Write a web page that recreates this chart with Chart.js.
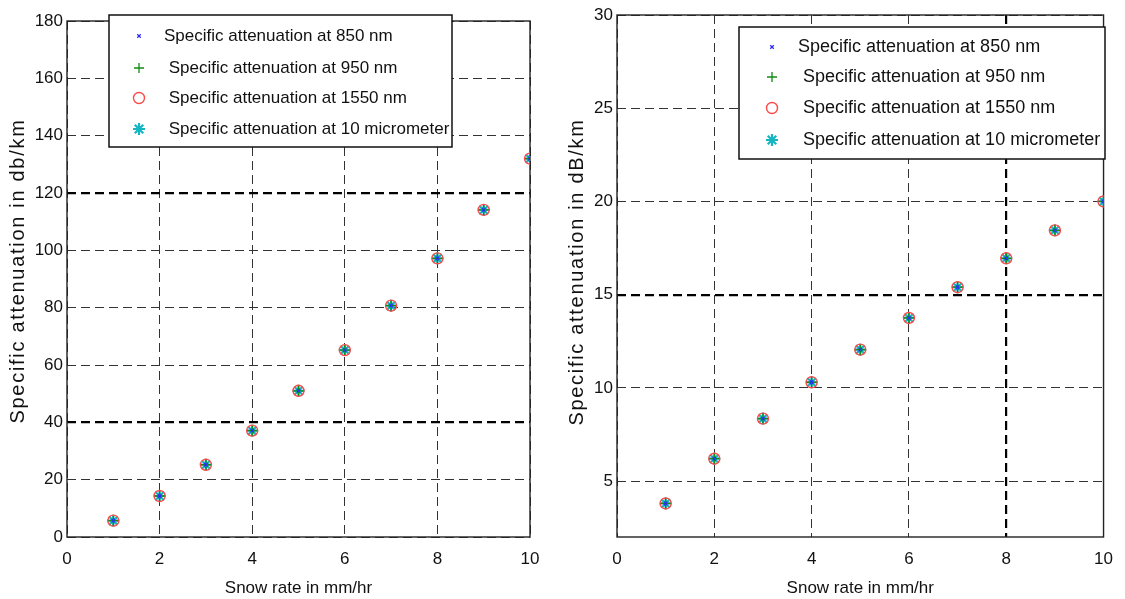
<!DOCTYPE html>
<html>
<head>
<meta charset="utf-8">
<script src="https://cdn.jsdelivr.net/npm/chart.js@4.4.0/dist/chart.umd.min.js"></script>
<style>
  html, body { margin: 0; padding: 0; background: #fff; }
  .panel { position: absolute; top: 0; height: 599px; }
  #left { left: 0; width: 560px; }
  #right { left: 560px; width: 565px; }
</style>
</head>
<body>
<div class="panel" id="left"><canvas id="chartLeft"></canvas></div>
<div class="panel" id="right"><canvas id="chartRight"></canvas></div>
<script>
// snow rate (mm/hr)
const snowRate = [1, 2, 3, 4, 5, 6, 7, 8, 9, 10];

// specific attenuation, left panel (db/km)
const attenuationLeft = [5.7, 14.3, 25.2, 37.1, 51.0, 65.2, 80.7, 97.2, 114.1, 132.0];
// specific attenuation, right panel (dB/km)
const attenuationRight = [3.8, 6.2, 8.35, 10.3, 12.05, 13.75, 15.4, 16.95, 18.45, 20.0];

const xTicks = [0, 2, 4, 6, 8, 10];
const yTicksLeft = [0, 20, 40, 60, 80, 100, 120, 140, 160, 180];
const yTicksRight = [5, 10, 15, 20, 25, 30];

const seriesLabels = [
    'Specific attenuation at 850 nm',
    ' Specific attenuation at 950 nm',
    ' Specific attenuation at 1550 nm',
    ' Specific attenuation at 10 micrometer'
];

// marker look for each wavelength
const markers = [
    { pointStyle: 'crossRot', radius: 2.5, color: '#2b2bff', width: 1.2 },
    { pointStyle: 'cross', radius: 5, color: '#138a13', width: 1.3 },
    { pointStyle: 'circle', radius: 5.5, color: '#ff4a4a', width: 1.4 },
    { pointStyle: 'star', radius: 6, color: '#14b6c2', width: 2.2 }
];

const fontFamily = "'Liberation Sans', Arial, sans-serif";
Chart.defaults.font.family = fontFamily;
Chart.defaults.font.size = 17;
Chart.defaults.color = '#111';

// matlab style box around the axes
const boxPlugin = {
    id: 'axesBox',
    beforeDatasetsDraw(chart) {
        const { ctx, chartArea: a } = chart;
        ctx.save();
        ctx.strokeStyle = '#222';
        ctx.lineWidth = 1.4;
        ctx.setLineDash([]);
        ctx.strokeRect(a.left, a.top, a.right - a.left, a.bottom - a.top);
        ctx.restore();
    }
};

// rotated y title, spaced out a little
const yTitlePlugin = {
    id: 'yTitle',
    beforeDatasetsDraw(chart, args, opts) {
        const ctx = chart.ctx;
        ctx.save();
        ctx.translate(opts.x, opts.y);
        ctx.rotate(-Math.PI / 2);
        ctx.font = opts.fontSize + 'px ' + fontFamily;
        ctx.letterSpacing = opts.spacing;
        ctx.fillStyle = '#111';
        ctx.textAlign = 'center';
        ctx.textBaseline = 'middle';
        ctx.fillText(opts.text, 0, 0);
        ctx.restore();
    }
};

// boxed legend drawn inside the plot
const legendBoxPlugin = {
    id: 'legendBox',
    afterDatasetsDraw(chart, args, opts) {
        const ctx = chart.ctx;
        ctx.save();
        ctx.setLineDash([]);
        ctx.fillStyle = '#fff';
        ctx.fillRect(opts.left, opts.top, opts.width, opts.height);
        ctx.strokeStyle = '#111';
        ctx.lineWidth = 1.5;
        ctx.strokeRect(opts.left, opts.top, opts.width, opts.height);
        ctx.font = opts.fontSize + 'px ' + fontFamily;
        ctx.textBaseline = 'middle';
        seriesLabels.forEach((label, i) => {
            const y = opts.top + opts.rows[i];
            const m = markers[i];
            ctx.strokeStyle = m.color;
            ctx.fillStyle = 'rgba(0,0,0,0)';
            ctx.lineWidth = m.width;
            Chart.helpers.drawPoint(ctx, { pointStyle: m.pointStyle, radius: m.radius, rotation: 0, borderWidth: m.width }, opts.left + opts.markerX, y);
            ctx.fillStyle = '#111';
            ctx.fillText(label, opts.left + opts.textX, y);
        });
        ctx.restore();
    }
};

function makeChart(canvasId, values, cfg) {
    const datasets = seriesLabels.map((label, i) => ({
        label: label.trim(),
        data: snowRate.map((x, k) => ({ x: x, y: values[k] })),
        showLine: false,
        pointStyle: markers[i].pointStyle,
        pointRadius: markers[i].radius,
        pointBorderColor: markers[i].color,
        pointBackgroundColor: 'rgba(0,0,0,0)',
        pointBorderWidth: markers[i].width
    }));

    const gridWidth = bold => ctx => (ctx.tick && bold.includes(ctx.tick.value) ? 2.2 : 1);
    const gridColor = bold => ctx => (ctx.tick && bold.includes(ctx.tick.value) ? '#000' : '#333');

    return new Chart(document.getElementById(canvasId), {
        type: 'scatter',
        data: { datasets },
        plugins: [boxPlugin, yTitlePlugin, legendBoxPlugin],
        options: {
            responsive: true,
            maintainAspectRatio: false,
            animation: false,
            layout: { padding: cfg.padding },
            plugins: {
                legend: { display: false },
                tooltip: { enabled: false },
                legendBox: cfg.legend,
                yTitle: cfg.yTitle
            },
            scales: {
                x: {
                    type: 'linear',
                    min: 0,
                    max: 10,
                    afterBuildTicks: s => { s.ticks = xTicks.map(v => ({ value: v })); },
                    afterFit: s => { s.height = 62; },
                    ticks: { padding: 12 },
                    grid: { color: gridColor(cfg.boldX), lineWidth: gridWidth(cfg.boldX), drawTicks: false },
                    border: { display: false, dash: [9, 5] },
                    title: { display: true, text: 'Snow rate in mm/hr', font: { size: 17 }, padding: { top: 5, bottom: 0 } }
                },
                y: {
                    type: 'linear',
                    min: cfg.yMin,
                    max: cfg.yMax,
                    afterBuildTicks: s => { s.ticks = cfg.yTicks.map(v => ({ value: v })); },
                    afterFit: s => { s.width = cfg.yWidth; },
                    ticks: { padding: 4 },
                    grid: { color: gridColor(cfg.boldY), lineWidth: gridWidth(cfg.boldY), drawTicks: false },
                    border: { display: false, dash: [9, 5] }
                }
            }
        }
    });
}

makeChart('chartLeft', attenuationLeft, {
    yMin: 0, yMax: 180, yTicks: yTicksLeft,
    yTitle: { text: 'Specific attenuation in db/km', x: 18, y: 271, fontSize: 20, spacing: '1.7px' },
    yWidth: 67,
    padding: { left: 0, right: 30, top: 21, bottom: 0 },
    boldX: [], boldY: [40, 120],
    legend: { left: 109, top: 15, width: 343, height: 132, markerX: 30, textX: 55, rows: [21, 53, 83, 114], fontSize: 17 }
});

makeChart('chartRight', attenuationRight, {
    yMin: 2, yMax: 30, yTicks: yTicksRight,
    yTitle: { text: 'Specific attenuation in dB/km', x: 17, y: 272, fontSize: 20, spacing: '1.7px' },
    yWidth: 57,
    padding: { left: 0, right: 14, top: 15, bottom: 0 },
    boldX: [8], boldY: [15],
    legend: { left: 179, top: 27, width: 366, height: 132, markerX: 33, textX: 59, rows: [20, 50, 81, 113], fontSize: 18 }
});
</script>
</body>
</html>
